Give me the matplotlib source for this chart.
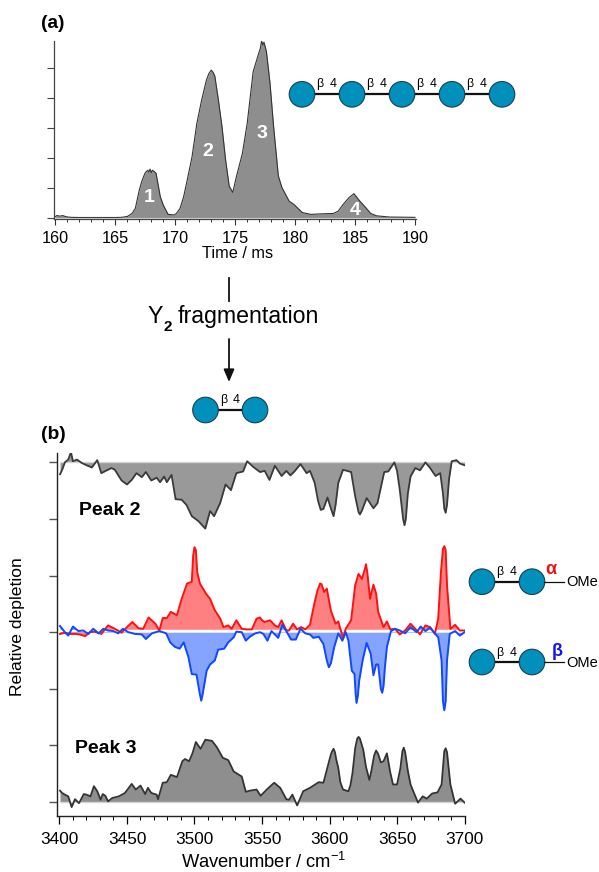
import matplotlib
matplotlib.use("Agg")
import matplotlib.pyplot as plt
from matplotlib.patches import Circle
from matplotlib.ticker import MultipleLocator

plt.rcParams['font.family'] = ['Liberation Sans', 'DejaVu Sans']

# ---- Arrival time distribution ----
time_ms = [160, 160.1, 160.4, 160.6, 160.9, 161.3, 162, 163, 164, 165, 165.5, 166, 166.4, 166.67, 167, 167.2, 167.36,
           167.5, 167.7, 167.8, 167.9, 168, 168.1, 168.3, 168.4, 168.5, 168.6, 168.75, 169, 169.4, 169.9, 170.1, 170.4,
           170.7, 171, 171.4, 171.8, 172.2, 172.6, 172.8,
           173, 173.15, 173.3, 173.6, 173.9, 174.2, 174.5, 174.8, 175.1, 175.6, 176, 176.5, 177, 177.1, 177.2, 177.3,
           177.4, 177.5, 177.6, 177.9,
           178.2, 178.6, 178.9, 179.5, 179.9, 180.6, 181.3, 182.4, 183.2, 183.6, 184, 184.5, 184.9, 185.4,
           185.9, 186.3, 186.8, 187.9, 190]
intensity = [0.03, 0.07, 0.05, 0.07, 0.03, 0.01, 0.005, 0.005, 0.005, 0.005, 0.01, 0.04, 0.14, 0.31, 0.92, 1.2, 1.37,
             1.5, 1.58, 1.52, 1.62, 1.5, 1.58, 1.52, 1.48, 1.25, 1.03, 0.70, 0.42, 0.11, 0.09, 0.14, 0.31,
             0.70, 1.26, 2.03, 3.14, 3.92, 4.59, 4.8,
             4.92, 4.85, 4.72, 3.92, 3.03, 1.92, 1.05, 0.84, 1.37, 2.14, 3.14, 4.87, 5.53, 5.65, 5.9, 5.75,
             5.85, 5.7, 5.55, 4.50,
             3.05, 1.39, 1.00, 0.55, 0.44, 0.17, 0.11, 0.13, 0.14, 0.22, 0.44, 0.67, 0.80, 0.55,
             0.33, 0.14, 0.06, 0.02, 0.01]
peak_labels = ['1', '2', '3', '4']
peak_label_x = [167.8, 172.75, 177.25, 185.0]
peak_label_y = [0.66, 2.19, 2.79, 0.25]

# ---- IR spectra ----
w_peak2 = [3400.4, 3402, 3404, 3406.5, 3408.5, 3410, 3413, 3416.5, 3420, 3424, 3428, 3431, 3435, 3438.5, 3441, 3446,
           3450, 3453.5, 3457, 3461, 3464, 3468, 3472, 3474.5, 3477.5, 3479.5, 3483, 3486, 3490.5, 3494, 3498, 3503,
           3508, 3511.5, 3514.5, 3519, 3523, 3527, 3531, 3536, 3539, 3543.5, 3548.5, 3552, 3555.5, 3559.5, 3564.5,
           3568, 3571, 3574, 3578.5, 3583, 3585.5, 3589, 3591.5, 3593.5, 3595.5, 3598.5, 3601.5, 3603, 3604.5, 3606.5,
           3610, 3616, 3619, 3621.5,
           3622.5, 3624, 3627.5, 3632.5, 3635.5, 3640.5, 3643.5, 3648, 3650, 3652, 3654.5, 3655.5, 3656.5, 3658, 3660,
           3663.5, 3667, 3671, 3674.5,
           3678.5, 3682, 3684, 3685, 3686, 3687, 3688.5, 3690.5, 3694, 3696.5, 3700]
v_peak2 = [-.21, -.13, 0, .05, .18, .02, .05, -.01, -.05, -.09, .04, -.19, -.14, -.10, -.13, -.32,
           -.39, -.31, -.19, -.26, -.17, -.32, -.27, -.35, -.25, -.35, -.22, -.65, -.66, -.75, -.95, -1.04,
           -1.17, -.86, -.95, -.72, -.39, -.49, -.19, -.16, .02, -.08, -.17, -.15, -.31, -.06, -.24,
           -.15, -.23, -.16, -.03, -.19, -.15, -.36, -.68, -.84, -.82, -.62, -.85, -.95, -.75, -.36,
           -.13, -.17, -.6, -.88,
           -.92, -.85, -.63, -.81, -.72, -.17, -.16, 0, -.15, -.48, -1.0, -1.11, -1.0, -.55, -.25,
           -.1, -.14, 0, -.1,
           -.24, -.19, -.55, -.82, -.89, -.75, -.3, .02, .04, -.02, -.05]

w_alpha = [3400.4, 3404, 3408, 3411.5, 3415, 3419, 3422.5, 3426, 3431, 3436, 3441, 3446, 3450, 3454, 3458.5, 3462,
           3466, 3471, 3474, 3476.5, 3479.5, 3482.5, 3487, 3490.5, 3494.5, 3498, 3499, 3500, 3501, 3502, 3504, 3508.5,
           3511.5,
           3515, 3519, 3521.5, 3525, 3527.5, 3531, 3535, 3538.5, 3542.5, 3546, 3548.5, 3550, 3552, 3556, 3559.5,
           3562, 3564.5, 3568, 3570, 3573, 3576, 3579, 3582, 3585.5, 3589, 3591, 3593, 3594, 3596, 3598, 3601, 3604.5,
           3606.5,
           3610, 3612, 3616, 3619, 3621.5, 3624, 3626, 3627, 3628, 3630, 3632.5, 3634.5, 3636, 3640, 3642.5, 3645, 3648.5,
           3652, 3656, 3660, 3663.5, 3667, 3671, 3674.5, 3678, 3680.5, 3682.5, 3684, 3685, 3686, 3687, 3689.5, 3693,
           3696.5, 3700]
v_alpha = [-.08, -.06, -.08, -.08, -.09, -.12, -.05, -.04, -.08, .07, .01, -.06, .04, .13, .02, .01,
           .21, .10, -.02, .20, .20, .31, .25, .54, .81, .84, 1.3, 1.45, 1.4, 1.01, .81, .63,
           .54,
           .34, .19, .04, .07, .01, .16, .01, 0, 0, .19, .21, .16, .13, .16, .07,
           .04, .16, -.02, -.02, .10, 0, .04, 0, .08, .48, .68, .81, .8, .66, .72, .33, .10,
           .14,
           -.16, .01, .16, .78, .98, .89, 1.05, 1.15, 1.0, .54, .79, .63, .31, .04, .14, 0, .01,
           -.09, -.02, .10, .01, -.09, .07, .04, -.08, .19, 1.01, 1.42, 1.47, 1.4, .78, .01, .08,
           -.02, -.02]

w_beta = [3400.4, 3404, 3406.5, 3410, 3414, 3417.5, 3421.5, 3425, 3429, 3432.5, 3436, 3440, 3443.5, 3447, 3451, 3456,
          3461, 3464, 3468.5, 3474, 3479, 3482, 3485.5, 3489, 3492, 3495.5, 3498, 3501.5, 3504, 3505, 3506, 3509, 3511.5,
          3515,
          3517.5, 3522, 3525, 3529, 3531, 3535, 3538, 3541, 3545, 3548.5, 3551, 3554, 3557, 3562, 3565, 3568,
          3571.5, 3575, 3578.5, 3582, 3585.5, 3588, 3592, 3595.5, 3598, 3599.5, 3601, 3603.5, 3606.5, 3609.5, 3612, 3614,
          3616.5,
          3618.5, 3619.3, 3620, 3621, 3622, 3624.5, 3627.5, 3630.5, 3632.5, 3634.5, 3636, 3638, 3639, 3640, 3641, 3642.5,
          3645.5, 3648.5, 3652,
          3656, 3660, 3664.5, 3667.5, 3671, 3674.5, 3678, 3680.5, 3683, 3684, 3685, 3686, 3687, 3689, 3693, 3696.5, 3700]
v_beta = [.11, 0, -.06, .10, .02, .03, -.03, .06, -.02, .06, .03, .02, -.02, .06, 0, -.03,
          -.04, -.12, -.02, .02, -.02, -.18, -.26, -.29, -.18, -.44, -.74, -.75, -1.1, -1.21, -1.1, -.68, -.57,
          -.50,
          -.31, -.29, -.18, -.09, .01, 0, -.15, -.08, -.02, 0, -.03, -.15, .02, -.10, .13, .02,
          -.13, -.13, .06, -.02, -.04, -.10, -.08, -.21, -.5, -.62, -.55, -.26, -.02, -.15, 0, -.15,
          -.68,
          -.74, -1.08, -1.25, -1.12, -.85, -.5, -.19, -.38, -.76, -.57, -.57, -1.0, -1.07, -.95, -.62, -.26,
          .02, .06, .03,
          -.02, .09, 0, .10, .02, .08, -.02, -.09, -.50, -1.22, -1.38, -1.22, -.50, -.03, .02, -.06, 0]

w_peak3 = [3400.4, 3402, 3404, 3406.5, 3409, 3411.5, 3414.5, 3418, 3420, 3423, 3425.5, 3428, 3430.5, 3432, 3434, 3436,
           3439, 3444, 3448.5, 3453.5, 3456.5, 3460, 3463.5, 3465.5, 3468, 3472, 3473, 3476.5, 3479.5, 3482.5, 3487,
           3491, 3493, 3496, 3498.5, 3501, 3504.5, 3508, 3513, 3516.5, 3521, 3525, 3529, 3535, 3538, 3541, 3546,
           3549, 3553.5, 3559, 3563.5, 3568, 3570, 3572.5, 3576, 3580.5, 3585.5, 3592, 3595.5, 3599, 3601, 3602, 3603,
           3604, 3605, 3606.5, 3608,
           3610, 3614, 3615.5, 3617, 3619, 3620.5, 3621.5, 3622.5, 3625, 3627, 3629.5, 3631, 3633, 3634.5, 3636, 3638,
           3640, 3642.5, 3645, 3647, 3650, 3652.5, 3654, 3655, 3656, 3658, 3660, 3662, 3665.5,
           3669, 3672, 3676, 3680, 3683, 3685, 3686, 3687, 3689.5, 3693, 3697, 3700]
v_peak3 = [.2, .16, .13, .10, -.09, .05, -.02, .14, .13, .10, .28, .19, .04, .14, .11, .01,
           .07, .10, .16, .32, .22, .29, .14, .25, .16, .13, .05, .34, .35, .48, .44,
           .72, .76, .72, .86, 1.06, .94, 1.10, 1.08, .97, .78, .74, .54, .45, .18, .20, .22,
           .11, .22, .34, .25, .05, .04, .13, -.06, .19, .25, .35, .34, .66, .84, .9, .94,
           .88, .75, .6, .35,
           .22, .19, .3, .51, .95, 1.12, 1.15, 1.12, .92, .62, .39, .55, .82, .91, .85, .70,
           .72, .86, .52, .31, .31, .6, .9, .96, .88, .55, .31, .19, -.01,
           .10, .06, .15, .17, .31, .9, .95, .88, .31, -.03, .06, -.01]

FIG_W, FIG_H = 599, 872
fig = plt.figure(figsize=(FIG_W / 100, FIG_H / 100), dpi=100)


def rect(x0, x1, ytop, ybot):
    return [x0 / FIG_W, 1 - ybot / FIG_H, (x1 - x0) / FIG_W, (ybot - ytop) / FIG_H]


# Panel (a)
ax1 = fig.add_axes(rect(53.7, 415.5, 40.7, 219))
ax1.set_xlim(159.86, 190.04)
ax1.set_ylim(-0.045, 5.9)
ax1.fill_between(time_ms, intensity, 0, color='#8e8e8e', lw=0)
ax1.plot(time_ms, intensity, color='#333333', lw=0.8)
ax1.axhline(0, color='#d8d8d8', lw=0.8, xmin=0.005)
for s in ('top', 'right'):
    ax1.spines[s].set_visible(False)
for s in ('left', 'bottom'):
    ax1.spines[s].set_color('#444444')
    ax1.spines[s].set_linewidth(0.9)
ax1.xaxis.set_major_locator(MultipleLocator(5))
ax1.xaxis.set_minor_locator(MultipleLocator(1))
ax1.set_yticks([0, 1, 2, 3, 4, 5])
ax1.set_yticklabels([])
ax1.tick_params(axis='x', which='major', length=4.5, width=0.8, labelsize=11.7, pad=4, color='#333333')
ax1.tick_params(axis='x', which='minor', length=2.2, width=0.7, color='#333333')
ax1.tick_params(axis='y', which='major', length=5, width=0.8, color='#444444')
ax1.set_xlabel('Time / ms', fontsize=11.7, va='center')
ax1.xaxis.set_label_coords((237.5 - 53.7) / (415.5 - 53.7), -(254 - 219) / (219 - 40.7))
for t, x, y in zip(peak_labels, peak_label_x, peak_label_y):
    ax1.text(x, y, t, color='white', fontsize=14, fontweight='bold', ha='center', va='center')

# Panel (b)
ax2 = fig.add_axes(rect(57.3, 464.7, 453, 815.7))
ax2.set_xlim(3398.4, 3700.1)
ax2.set_ylim(-0.242, 6.166)
base_p3, base_b, base_a, base_p2 = 0, 3.0, 3.05, 6.0
ax2.fill_between(w_peak2, [base_p2 + v for v in v_peak2], base_p2, color='#999999', lw=0)
ax2.plot(w_peak2, [base_p2 + v for v in v_peak2], color='#3a3a3a', lw=1.3, solid_joinstyle='round')
ax2.hlines(base_p2, 3400.4, 3700, color='#d5d5d5', lw=1.0, zorder=1.5)
ax2.fill_between(w_alpha, [base_a + v for v in v_alpha], base_a, color='#ff8080', lw=0)
ax2.fill_between(w_beta, [base_b + v for v in v_beta], base_b, color='#85a4ff', lw=0)
ax2.hlines(3.025, 3400.4, 3700, color='white', lw=1.6, zorder=2.2)
ax2.plot(w_alpha, [base_a + v for v in v_alpha], color='#ff1010', lw=1.4, zorder=3)
ax2.plot(w_beta, [base_b + v for v in v_beta], color='#1048ff', lw=1.4, zorder=3.1)
ax2.fill_between(w_peak3, [base_p3 + v for v in v_peak3], base_p3, color='#8e8e8e', lw=0)
ax2.plot(w_peak3, [base_p3 + v for v in v_peak3], color='#333333', lw=1.3)
ax2.hlines(base_p3, 3400.4, 3700, color='#d5d5d5', lw=1.0, zorder=1.5)
for s in ('top', 'right'):
    ax2.spines[s].set_visible(False)
for s in ('left', 'bottom'):
    ax2.spines[s].set_linewidth(1.0)
    ax2.spines[s].set_color('#222222')
ax2.xaxis.set_major_locator(MultipleLocator(50))
ax2.xaxis.set_minor_locator(MultipleLocator(10))
ax2.set_yticks([0, 1, 2, 3, 4, 5, 6])
ax2.set_yticklabels([])
ax2.tick_params(axis='x', which='major', length=5.5, width=0.9, labelsize=12.4, pad=6)
ax2.tick_params(axis='x', which='minor', length=3, width=0.7)
ax2.tick_params(axis='y', which='major', length=6, width=1.0, color='#555555')
ax2.set_xlabel('Wavenumber / cm$^{\\mathregular{-1}}$', fontsize=13.2, va='center')
ax2.xaxis.set_label_coords((264 - 57.3) / (464.7 - 57.3), -(862 - 815.7) / (815.7 - 453))
ax2.set_ylabel('Relative depletion', fontsize=12.6, va='center')
ax2.yaxis.set_label_coords((18 - 57.3) / (464.7 - 57.3), (815.7 - 627) / (815.7 - 453))

# Overlay in figure pixels for glycan schematics and annotations
ov = fig.add_axes([0, 0, 1, 1], facecolor='none')
ov.set_xlim(0, FIG_W)
ov.set_ylim(FIG_H, 0)
ov.axis('off')

GLY = '#0090bb'
EDGE = '#17414f'


def glycan(xs, y, label_y, beta_off=18, lw=1.6, r=12.8):
    ov.plot([xs[0], xs[-1]], [y, y], color='#111111', lw=lw, zorder=1)
    for x in xs:
        ov.add_patch(Circle((x, y), r, fc=GLY, ec=EDGE, lw=0.8, zorder=2))
    for x0 in xs[:-1]:
        ov.text(x0 + beta_off, label_y, 'β', fontsize=9, ha='center', va='center')
        ov.text(x0 + beta_off + 13, label_y, '4', fontsize=9, ha='center', va='center')


glycan([302, 352, 402, 452, 502], 94.3, 84)
glycan([205.5, 255], 410, 400)
glycan([482, 532], 581.7, 572)
glycan([482, 532], 662, 653)
for y, sym, col, sx, sy in [(581.7, 'α', '#ee1111', 551, 569), (662, 'β', '#1515ee', 557, 651)]:
    ov.plot([544, 564], [y, y], color='#111111', lw=0.9)
    ov.text(566, y + 0.5, 'OMe', fontsize=10.5, ha='left', va='center')
    ov.text(sx, sy, sym, color=col, fontsize=13, fontweight='bold', ha='center', va='center')

ov.text(41, 23, '(a)', fontsize=13.8, fontweight='bold', ha='left', va='center')
ov.text(41, 434, '(b)', fontsize=13.8, fontweight='bold', ha='left', va='center')
ov.text(79, 510, 'Peak 2', fontsize=14, fontweight='bold', ha='left', va='center')
ov.text(75, 748, 'Peak 3', fontsize=14, fontweight='bold', ha='left', va='center')

ov.plot([229, 229], [278, 300.7], color='#111111', lw=1.3)
ov.text(148, 323, 'Y', fontsize=16.7, ha='left', va='baseline')
ov.text(164, 331, '2', fontsize=11, fontweight='bold', ha='left', va='baseline')
ov.text(178, 323, 'fragmentation', fontsize=16.7, ha='left', va='baseline')
ov.annotate('', xy=(229, 382), xytext=(229, 339),
            arrowprops=dict(arrowstyle='-|>,head_width=0.32,head_length=0.75', color='#111111', lw=1.3,
                            shrinkA=0, shrinkB=0))

fig.savefig('out.png', dpi=100)
